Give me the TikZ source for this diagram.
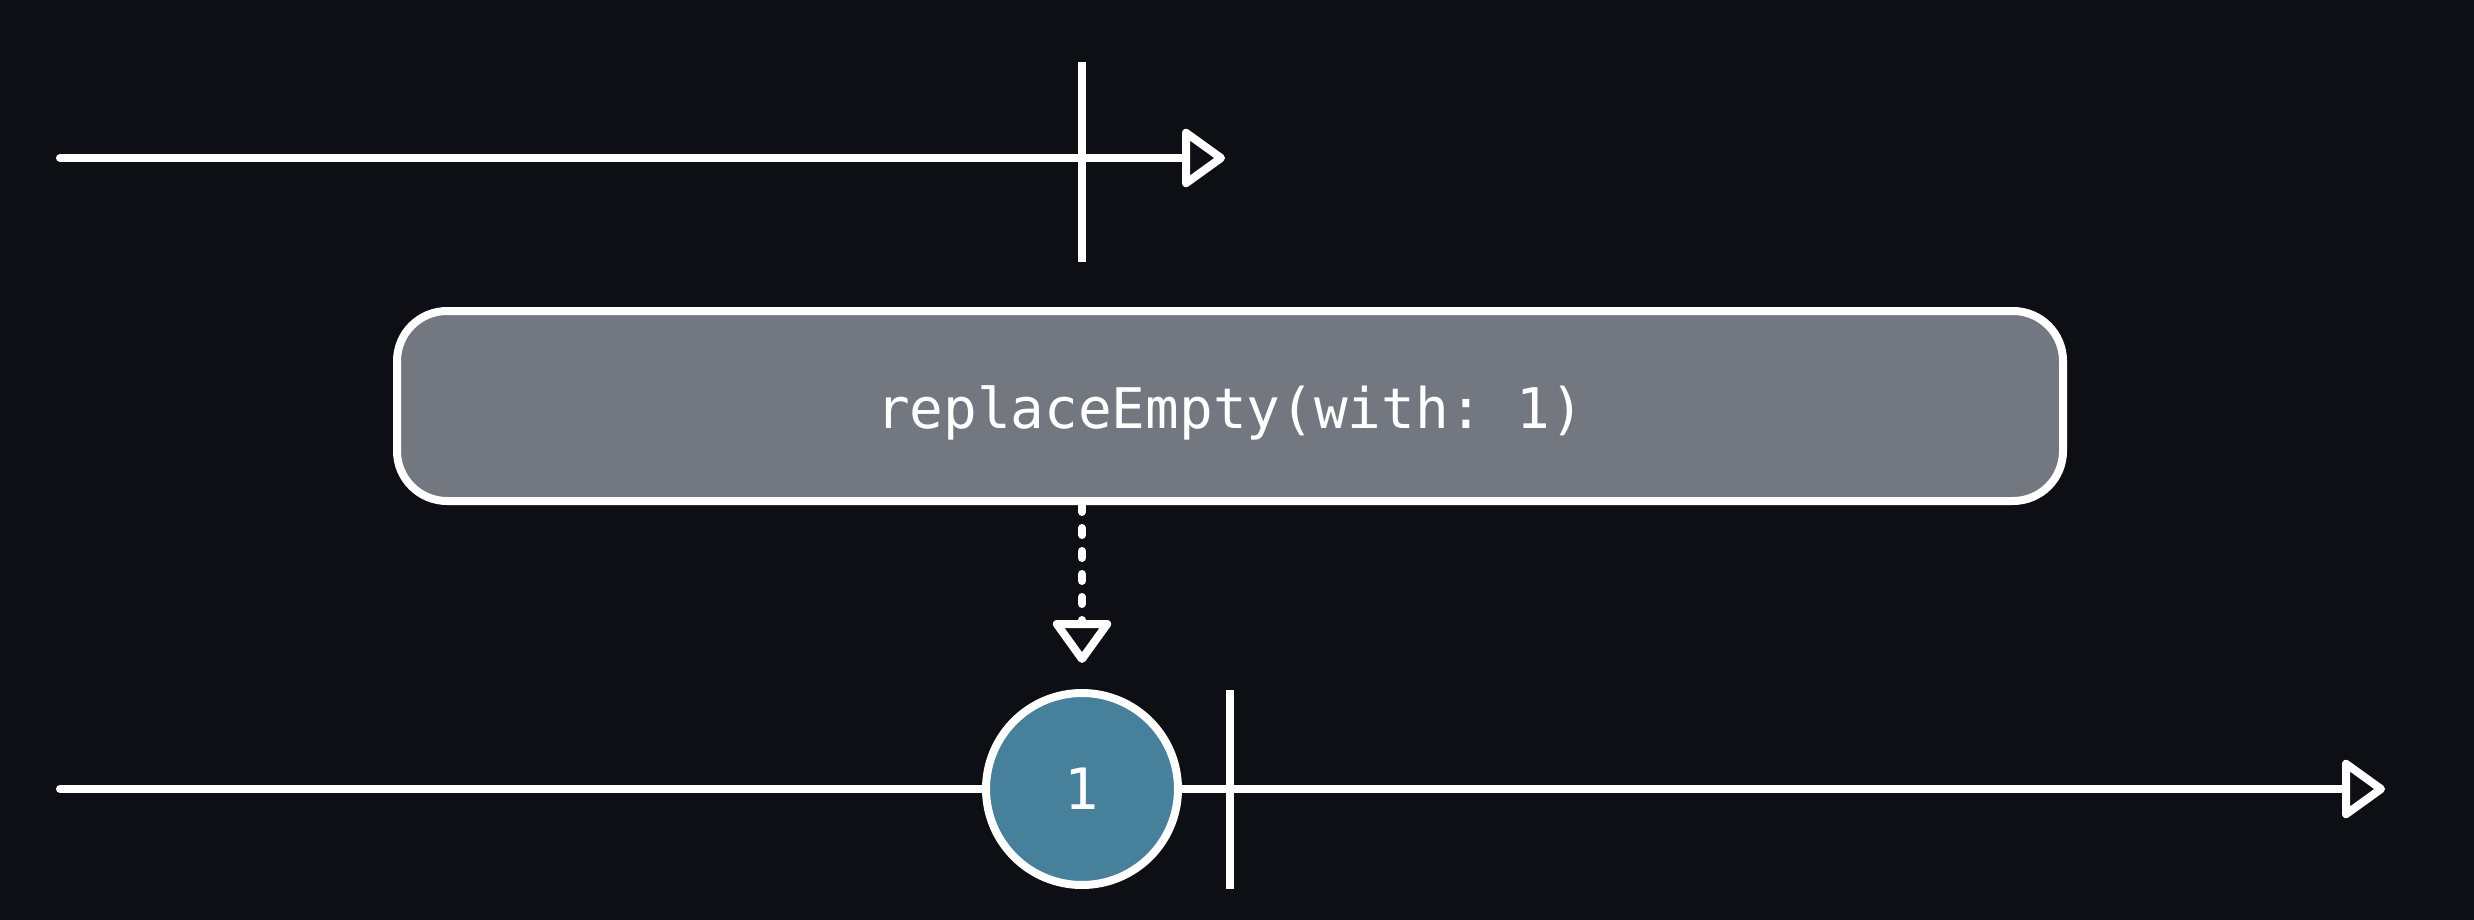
\documentclass[tikz,border=0pt]{standalone}
\usepackage{fontspec}
\setmonofont{DejaVu Sans Mono}
\usetikzlibrary{arrows.meta}
\definecolor{bgdark}{HTML}{0E0F14}
\definecolor{opgray}{HTML}{737780}
\definecolor{valblue}{HTML}{46809B}

\begin{document}
\begin{tikzpicture}[
    x=1pt, y=-1pt,
    line/.style={draw=white, line width=8pt, line cap=round},
    tick/.style={draw=white, line width=8pt},
    arrow/.style={line, -{Triangle[length=46pt, width=64pt, fill=bgdark, round]}},
    box/.style={draw=white, line width=8pt, fill=opgray, rounded corners=50pt,
                minimum width=1666pt, minimum height=190pt, text=white,
                text height=50pt, text depth=5pt,
                font=\ttfamily\fontsize{56}{67}\selectfont},
    marble/.style={circle, draw=white, line width=8pt, fill=valblue, inner sep=0pt,
                   minimum size=192pt, text=white, font=\ttfamily\fontsize{57}{68}\selectfont}
  ]
    \fill[bgdark] (0,0) rectangle (2474,920);
    \useasboundingbox (0,0) rectangle (2474,920);
    % input timeline
    \coordinate (in start) at (60,158);
    \coordinate (in end) at (1225,158);
    \draw[arrow] (in start) -- (in end);
    \coordinate (in done top) at (1082,62);
    \coordinate (in done bot) at (1082,262);
    \draw[tick] (in done top) -- (in done bot);
    % operator
    \node[box] (op) at (1230,406) {replaceEmpty(with: 1)};
    \coordinate (emit) at (1082,663);
    \draw[arrow, dash pattern=on 7pt off 16pt] (op.south -| emit) -- (emit);
    % output timeline
    \coordinate (out start) at (60,789);
    \coordinate (out end) at (2385,789);
    \draw[arrow] (out start) -- (out end);
    \node[marble] (v1) at (1082,789) {1};
    \coordinate (out done top) at (1230,690);
    \coordinate (out done bot) at (1230,889);
    \draw[tick] (out done top) -- (out done bot);
  \end{tikzpicture}
\end{document}
